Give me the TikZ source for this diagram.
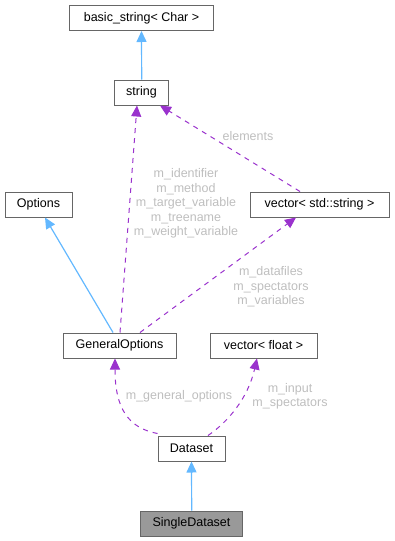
\documentclass[tikz,border=0pt]{standalone}
\usepackage{fontspec}
\setmainfont{Liberation Sans}
\usetikzlibrary{arrows.meta,calc}
\definecolor{boxline}{HTML}{666666}
\definecolor{inhblue}{HTML}{63B8FF}
\definecolor{usepurple}{HTML}{9A32CD}
\definecolor{lblgray}{HTML}{BEBEBE}
\begin{document}
\begin{tikzpicture}[x=1pt,y=-1pt,
  cls/.style={draw=boxline,line width=1pt,fill=white,rectangle,inner sep=0pt,minimum height=25pt,font=\fontsize{12.5}{14.5}\selectfont},
  inh/.style={draw=inhblue,color=inhblue,line width=1.2pt,-{Triangle[length=11pt,width=10pt]}},
  use/.style={draw=usepurple,line width=1pt,dash pattern=on 5pt off 5pt,-{Triangle[length=11pt,width=10pt]}},
  lbl/.style={text=lblgray,align=center,inner sep=0pt,font=\fontsize{12.5}{14.5}\selectfont}]
\useasboundingbox (0,0) rectangle (395,541);
\node[cls,minimum width=144pt] (bs) at (141.5,18) {basic\_string< Char >};
\node[cls,minimum width=54pt] (str) at (141.5,92.5) {string};
\node[cls,minimum width=67pt] (opt) at (38.5,204.5) {Options};
\node[cls,minimum width=139pt] (vs) at (319.5,204.5) {vector< std::string >};
\node[cls,minimum width=113pt] (go) at (119.5,345.5) {GeneralOptions};
\node[cls,minimum width=107pt] (vf) at (263.5,345.5) {vector< float >};
\node[cls,minimum width=67pt] (ds) at (191.5,448.5) {Dataset};
\node[cls,minimum width=102pt,fill=black!40] (sd) at (191.5,523.5) {SingleDataset};

\draw[inh] ([xshift=0.2pt]str.north) -- (bs.south);
\draw[inh] ([xshift=-6.5pt]go.north) -- ([xshift=6.5pt]opt.south);
\draw[inh] ([xshift=0.2pt]sd.north) -- (ds.south);

\draw[use] ([xshift=0.5pt]go.north) -- ([xshift=-4.5pt]str.south);
\draw[use] ([xshift=-19.5pt]vs.north) -- ([xshift=18.5pt]str.south);
\draw[use] ([xshift=20.5pt]go.north) -- ([xshift=-23.5pt]vs.south);
\draw[use] ([yshift=2pt]ds.north west) .. controls (128,428) and (115,408) .. ([xshift=-4.5pt]go.south);
\draw[use] ([xshift=16.5pt]ds.north) .. controls (228,422) and (248,398) .. ([xshift=-6.5pt]vf.south);

\node[lbl] (l1) at (248,136) {elements};
\node[lbl] (l2) at (186,203.5) {m\_identifier\\m\_method\\m\_target\_variable\\m\_treename\\m\_weight\_variable};
\node[lbl] (l3) at (271,287) {m\_datafiles\\m\_spectators\\m\_variables};
\node[lbl] (l4) at (179,396) {m\_general\_options};
\node[lbl] (l5) at (290,396.5) {m\_input\\m\_spectators};
\end{tikzpicture}
\end{document}
